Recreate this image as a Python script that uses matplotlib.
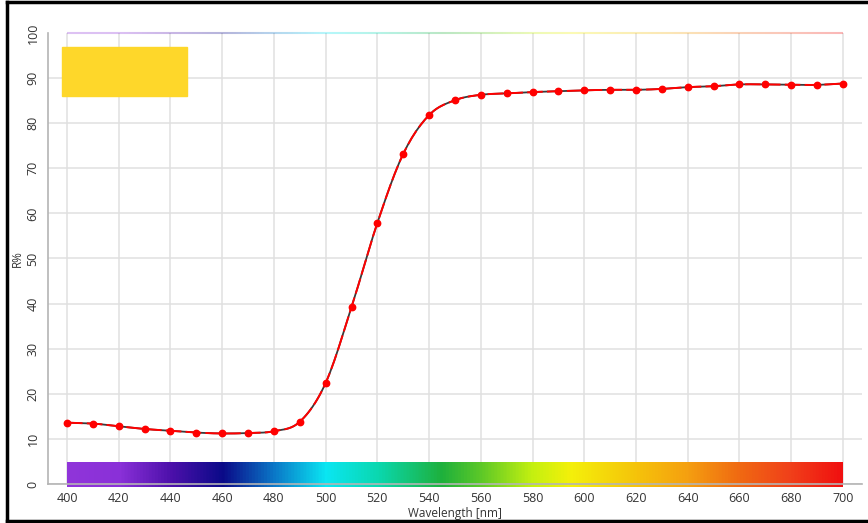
import numpy as np
import matplotlib
matplotlib.use('Agg')
from matplotlib import pyplot as plt
from matplotlib.colors import LinearSegmentedColormap
from matplotlib.collections import LineCollection
from matplotlib.patches import Rectangle
from matplotlib.lines import Line2D

plt.rcParams['font.family'] = ['Open Sans', 'DejaVu Sans']

# measured reflectance curve
wavelength = [400, 410, 420, 430, 440, 450, 460, 470, 480, 490,
              500, 510, 520, 530, 540, 550, 560, 570, 580, 590,
              600, 610, 620, 630, 640, 650, 660, 670, 680, 690, 700]
reflectance = [13.6, 13.4, 12.8, 12.2, 11.8, 11.4, 11.2, 11.3, 11.7, 13.8,
               22.4, 39.2, 57.9, 73.2, 81.8, 85.1, 86.3, 86.6, 86.9, 87.1,
               87.3, 87.4, 87.4, 87.6, 88.0, 88.2, 88.6, 88.6, 88.5, 88.5, 88.8]

x_ticks = list(range(400, 701, 20))
y_ticks = list(range(0, 101, 10))

# visible spectrum stops (nm, colour)
spectrum_nm = [400, 420, 440, 460, 480, 500, 520, 545, 560, 580, 595, 620, 640, 660, 680, 700]
spectrum_col = ['#9035da', '#8a30d8', '#4c10aa', '#0a0a88', '#0a78c8', '#0ae6f2',
                '#0ad8b0', '#1eb03c', '#5cc828', '#c4f010', '#f4f00a', '#f5c40a',
                '#f5a010', '#f06a12', '#f0401a', '#f01010']

sample_colour = '#fed72a'

spec_cmap = LinearSegmentedColormap.from_list(
    'spectrum',
    [((n - 400) / 300, c) for n, c in zip(spectrum_nm, spectrum_col)])


def smooth(x, y, steps=12):
    # Catmull-Rom curve through the measured points
    x = np.asarray(x, float)
    y = np.asarray(y, float)
    px = np.concatenate([[2 * x[0] - x[1]], x, [2 * x[-1] - x[-2]]])
    py = np.concatenate([[2 * y[0] - y[1]], y, [2 * y[-1] - y[-2]]])
    xs, ys = [], []
    t = np.linspace(0, 1, steps, endpoint=False)
    for i in range(1, len(px) - 2):
        for arr, out in ((px, xs), (py, ys)):
            p0, p1, p2, p3 = arr[i - 1:i + 3]
            out.extend(0.5 * (2 * p1 + (-p0 + p2) * t
                              + (2 * p0 - 5 * p1 + 4 * p2 - p3) * t ** 2
                              + (-p0 + 3 * p1 - 3 * p2 + p3) * t ** 3))
    xs.append(x[-1])
    ys.append(y[-1])
    return np.array(xs), np.array(ys)


fig = plt.figure(figsize=(8.68, 5.23), dpi=100)
ax = fig.add_axes([0.0553, 0.0746, 0.9377, 0.8623])

ax.set_xlim(392.65, 707.35)
ax.set_ylim(0, 100)
ax.set_xticks(x_ticks)
ax.set_yticks(y_ticks)
ax.grid(True, color='#e0e0e0', lw=1.1)
ax.set_axisbelow(True)
for s in ('top', 'right'):
    ax.spines[s].set_visible(False)
for s in ('left', 'bottom'):
    ax.spines[s].set_color('#b4b4b4')
    ax.spines[s].set_linewidth(1.2)
ax.tick_params(length=0, labelsize=9, colors='#333333', pad=6)
for lbl in ax.get_yticklabels():
    lbl.set_rotation(90)
    lbl.set_va('center')

ax.set_xlabel('Wavelength [nm]', fontsize=8.5, color='#333333', labelpad=1)
ax.set_ylabel('R%', fontsize=8.5, color='#333333', labelpad=2)

# hide the 100 grid line, a faint spectrum line goes there
ax.get_ygridlines()[-1].set_visible(False)
sx = np.linspace(400, 700, 300)
pts = np.column_stack([sx, np.full_like(sx, 100)])
segs = np.stack([pts[:-1], pts[1:]], axis=1)
lc = LineCollection(segs, colors=spec_cmap((sx[:-1] - 400) / 300), lw=1.5,
                    alpha=0.3, clip_on=False)
ax.add_collection(lc)

# spectrum strip
grad = np.linspace(0, 1, 512).reshape(1, -1)
ax.imshow(grad, cmap=spec_cmap, aspect='auto', extent=(400, 700, -0.7, 4.8),
          zorder=2, clip_on=False)

# sample colour swatch
ax.add_patch(Rectangle((398, 86.0), 48.4, 10.9, color=sample_colour, zorder=2))

cx, cy = smooth(wavelength, reflectance)
ax.plot(cx, cy, color='#3a3a3a', lw=1.3, zorder=3)
ax.plot(cx, cy, color='#ff0000', lw=1.4, dashes=(8, 2.2), zorder=4)
ax.plot(wavelength, reflectance, 'o', color='#ff0000', ms=4.6, zorder=5)

# frame on the left, top and bottom edges
for xs, ys in (([0.008, 0.008], [0.003, 0.997]),
               ([0.008, 1.0], [0.997, 0.997]),
               ([0.008, 1.0], [0.003, 0.003])):
    fig.add_artist(Line2D(xs, ys, transform=fig.transFigure, color='black', lw=2.5))

fig.savefig('out.png', dpi=100)
